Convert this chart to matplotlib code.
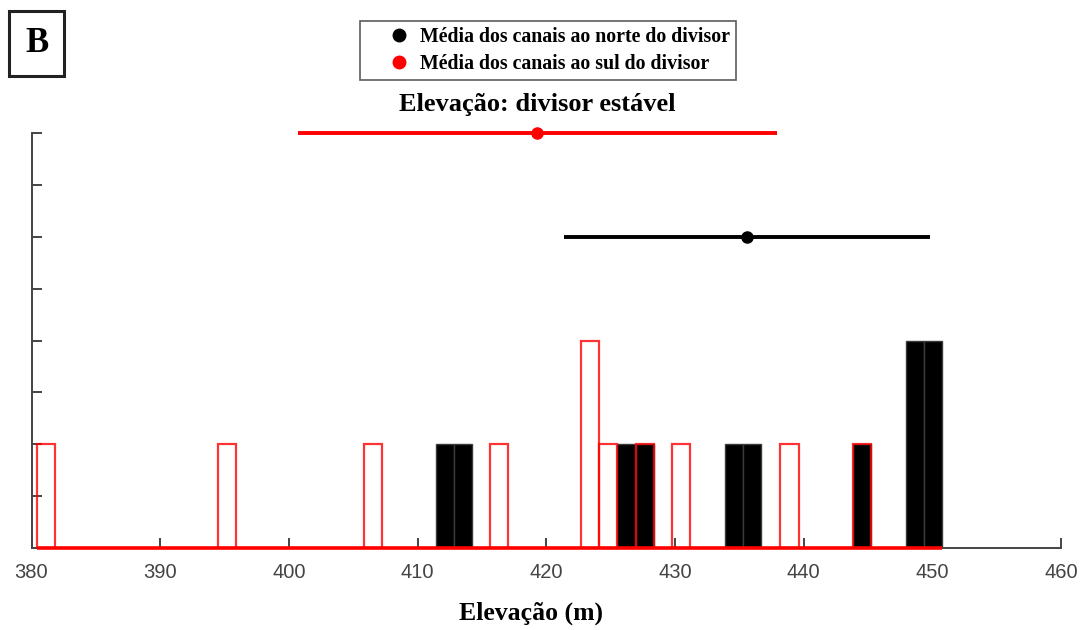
import matplotlib
matplotlib.use("Agg")
import matplotlib.pyplot as plt
from matplotlib.lines import Line2D
from matplotlib.patches import Rectangle

# ---- data ----
bin_width = 1.41
south_bin_left = [380.4, 394.5, 405.8, 415.65, 422.7, 424.1, 426.95, 429.75, 438.2, 443.85]
south_counts   = [2, 2, 2, 2, 4, 2, 2, 2, 2, 2]
north_bin_left = [411.4, 412.8, 425.5, 426.95, 433.9, 435.3, 443.85, 447.95, 449.35]
north_counts   = [2, 2, 2, 2, 2, 2, 2, 4, 4]

north_mean, north_err, north_level = 435.6, 14.2, 6
south_mean, south_err, south_level = 419.3, 18.6, 8

xticks = [380, 390, 400, 410, 420, 430, 440, 450, 460]
legend_labels = ["Média dos canais ao norte do divisor", "Média dos canais ao sul do divisor"]
title_text = "Elevação: divisor estável"
xlabel_text = "Elevação (m)"
panel_label = "B"

# ---- figure ----
fig = plt.figure(figsize=(10.83, 6.30), dpi=100)
ax = fig.add_axes([0.0291, 0.130, 0.9506, 0.659])

serif = ["Liberation Serif", "DejaVu Serif"]
sans = ["Liberation Sans", "DejaVu Sans"]

# black (north) histogram
ax.bar(north_bin_left, north_counts, width=bin_width, align="edge",
       color="black", edgecolor="#3a3a3a", linewidth=1.0, zorder=2)
# red (south) histogram, outline only
ax.bar(south_bin_left, south_counts, width=bin_width, align="edge",
       facecolor="none", edgecolor=(1, 0, 0, 0.8), linewidth=1.6, zorder=3)
# red baseline
base_end = north_bin_left[-1] + bin_width
ax.plot([south_bin_left[0], base_end], [0, 0], color="red", lw=2.6,
        zorder=4, solid_capstyle="butt", clip_on=False)

# mean +/- range
ax.errorbar([south_mean], [south_level], xerr=[[south_err], [south_err]],
            fmt="o", color="red", ms=8, elinewidth=2.8, capsize=0, zorder=5, clip_on=False)
ax.errorbar([north_mean], [north_level], xerr=[[north_err], [north_err]],
            fmt="o", color="black", ms=8, elinewidth=2.8, capsize=0, zorder=5, clip_on=False)

ax.set_xlim(380, 460)
ax.set_ylim(0, 8)
ax.set_xticks(xticks)
ax.set_xticklabels([str(t) for t in xticks], fontfamily=sans, fontsize=14.5, color="#444444")
ax.set_yticks(range(0, 9))
ax.set_yticklabels([])
ax.tick_params(axis="both", direction="in", length=7, width=1.4, color="#444444")
ax.tick_params(axis="x", pad=11)
for s in ["top", "right"]:
    ax.spines[s].set_visible(False)
for s in ["left", "bottom"]:
    ax.spines[s].set_color("#444444")
    ax.spines[s].set_linewidth(1.4)

ax.set_xlabel(xlabel_text, fontfamily=serif, fontweight="bold", fontsize=18.5)
ax.xaxis.set_label_coords(0.485, -0.128)
fig.text(0.496, 0.834, title_text, ha="center", va="center",
         fontfamily=serif, fontweight="bold", fontsize=19)

# legend
handles = [Line2D([], [], marker="o", ls="none", color="black", ms=9),
           Line2D([], [], marker="o", ls="none", color="red", ms=9)]
leg = fig.legend(handles, legend_labels, loc="center", bbox_to_anchor=(0.506, 0.920),
                 frameon=True, fancybox=False, edgecolor="#333333",
                 prop={"family": serif, "weight": "bold", "size": 14.3},
                 handletextpad=-0.65, borderpad=0.3, labelspacing=0.35, handlelength=3.4)
leg.get_frame().set_linewidth(1.2)

# panel label
fig.patches.append(Rectangle((0.0085, 0.880), 0.0505, 0.103, transform=fig.transFigure,
                             facecolor="white", edgecolor="#222222", linewidth=2.2))
fig.text(0.034, 0.931, panel_label, ha="center", va="center",
         fontfamily=serif, fontweight="bold", fontsize=25)

fig.savefig("out.png", dpi=100)
